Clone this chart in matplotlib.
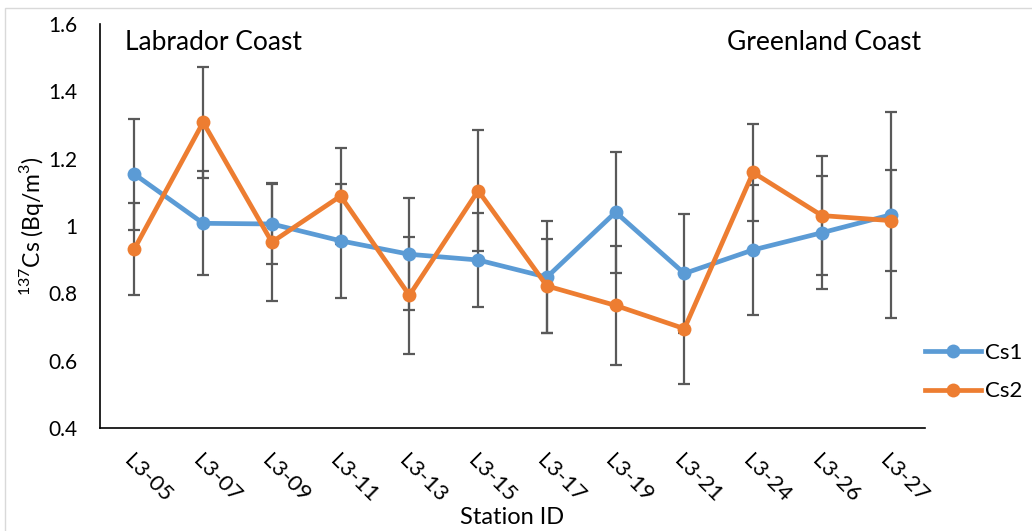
import matplotlib
matplotlib.use("Agg")
import matplotlib.pyplot as plt
from matplotlib.lines import Line2D
from matplotlib.patches import Rectangle
import numpy as np

plt.rcParams['font.family'] = ['Lato', 'DejaVu Sans']
plt.rcParams['mathtext.fontset'] = 'custom'
plt.rcParams['mathtext.rm'] = 'Lato'

stations = ["L3-05", "L3-07", "L3-09", "L3-11", "L3-13", "L3-15",
            "L3-17", "L3-19", "L3-21", "L3-24", "L3-26", "L3-27"]
cs1 = [1.154, 1.008, 1.006, 0.956, 0.916, 0.899, 0.848, 1.041, 0.859, 0.929, 0.980, 1.033]
cs1_err = [0.165, 0.155, 0.12, 0.17, 0.166, 0.141, 0.167, 0.18, 0.176, 0.192, 0.168, 0.306]
cs2 = [0.932, 1.308, 0.952, 1.089, 0.794, 1.105, 0.822, 0.764, 0.695, 1.159, 1.031, 1.016]
cs2_err = [0.137, 0.165, 0.175, 0.142, 0.173, 0.179, 0.139, 0.176, 0.165, 0.145, 0.178, 0.15]
y_ticks = [0.4, 0.6, 0.8, 1.0, 1.2, 1.4, 1.6]
y_tick_labels = ["0.4", "0.6", "0.8", "1", "1.2", "1.4", "1.6"]

blue = "#5B9BD5"
orange = "#ED7D31"
err_col = "#595959"

W, H = 1032, 531
fig = plt.figure(figsize=(W / 100, H / 100), dpi=100)
# light chart-area frame (only top and left edges fall inside the image)
fig.patches.append(Rectangle((5 / W, -0.1), 1.2, 1.1 - 8 / H,
                             transform=fig.transFigure, fill=False,
                             edgecolor="#D9D9D9", linewidth=1.0))

ax = fig.add_axes([100 / W, 1 - 428 / H, 825 / W, 404 / H])
x = np.arange(len(stations))

for vals, errs in [(cs1, cs1_err), (cs2, cs2_err)]:
    ax.errorbar(x, vals, yerr=errs, fmt="none", ecolor=err_col, elinewidth=1.6,
                capsize=4.5, capthick=1.6, zorder=2)
for vals, col, lab in [(cs1, blue, "Cs1"), (cs2, orange, "Cs2")]:
    ax.plot(x, vals, color=col, linewidth=3.4, marker="o", markersize=10,
            markeredgewidth=0, label=lab, zorder=3, solid_joinstyle="round")

ax.set_xlim(-0.5, len(stations) - 0.5)
ax.set_ylim(0.4, 1.6)
ax.set_yticks(y_ticks)
ax.set_yticklabels(y_tick_labels, fontsize=15)
ax.set_xticks(x)
ax.set_xticklabels(stations, fontsize=16, rotation=-45, ha="left", va="top",
                   rotation_mode="anchor")
ax.tick_params(axis="both", length=0)
ax.tick_params(axis="y", pad=16)
ax.tick_params(axis="x", pad=16)

for s in ["top", "right"]:
    ax.spines[s].set_visible(False)
for s in ["left", "bottom"]:
    ax.spines[s].set_color("black")
    ax.spines[s].set_linewidth(1.2)

fig.text(512 / W, 1 - 517 / H, "Station ID", fontsize=17, ha="center", va="center")
fig.text(31 / W, 1 - 226 / H, r"$^{137}$Cs (Bq/m$^{3}$)", fontsize=16.5,
         rotation=90, ha="center", va="center")

ax.text(125 / W * 0 + (125 - 100) / 825, 1 - (42 - 24) / 404, "Labrador Coast",
        transform=ax.transAxes, fontsize=19, ha="left", va="center")
ax.text((921 - 100) / 825, 1 - (42 - 24) / 404, "Greenland Coast",
        transform=ax.transAxes, fontsize=19, ha="right", va="center")

handles = [Line2D([], [], color=blue, linewidth=3.4, marker="o", markersize=10, markeredgewidth=0),
           Line2D([], [], color=orange, linewidth=3.4, marker="o", markersize=10, markeredgewidth=0)]
fig.legend(handles, ["Cs1", "Cs2"], loc="center left",
           bbox_to_anchor=(925 / W, 1 - 372 / H), frameon=False, fontsize=16,
           handlelength=2.5, handletextpad=0.2, labelspacing=0.85,
           borderpad=0, borderaxespad=0)

fig.savefig("out.png", dpi=100)
